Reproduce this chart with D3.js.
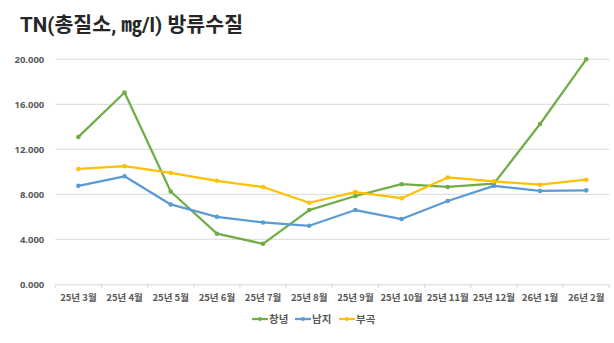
<!DOCTYPE html>
<html><head><meta charset="utf-8">
<script src="https://cdn.jsdelivr.net/npm/d3@7"></script>
<style>
html,body{margin:0;padding:0;background:#fff;}
svg{display:block;font-family:"Noto Sans CJK KR","Noto Sans",sans-serif;}
</style></head>
<body><svg id="c" width="614" height="343"></svg>
<script>
const title = "TN(총질소, ㎎/l) 방류수질";
const categories = ["25년 3월","25년 4월","25년 5월","25년 6월","25년 7월","25년 8월","25년 9월","25년 10월","25년 11월","25년 12월","26년 1월","26년 2월"];
const changnyeong = [13.1,17.05,8.25,4.5,3.6,6.6,7.85,8.9,8.65,8.95,14.25,20.0];
const namji = [8.75,9.6,7.1,6.0,5.5,5.2,6.6,5.8,7.4,8.75,8.3,8.35];
const bugok = [10.25,10.5,9.9,9.2,8.65,7.25,8.2,7.65,9.5,9.15,8.85,9.3];
const yTicks = [0,4,8,12,16,20];
const seriesNames = ["창녕","남지","부곡"];
const seriesColors = ["#70AD47","#5B9BD5","#FFC000"];

const svg = d3.select("#c");
const x = d3.scaleBand().domain(categories).range([55.3,609.3]);
const y = d3.scaleLinear().domain([0,20]).range([284.3,59.3]);

svg.append("text").attr("x",20).attr("y",31.5).text(title)
  .attr("font-size",20.5).attr("font-weight",700).attr("fill","#262626")
  .attr("textLength",223).attr("lengthAdjust","spacing")
  .attr("font-family","Roboto,'Noto Sans CJK KR',sans-serif");

// gridlines
svg.append("g").selectAll("line").data(yTicks.filter(d=>d>0)).join("line")
  .attr("x1",55.3).attr("x2",609.3).attr("y1",d=>y(d)).attr("y2",d=>y(d))
  .attr("stroke","#D9D9D9").attr("stroke-width",1);

// y axis labels
const ya = svg.append("g").attr("transform","translate(55.3,0)")
  .call(d3.axisLeft(y).tickValues(yTicks).tickFormat(d3.format(".3f")).tickSize(0).tickPadding(11));
ya.select(".domain").remove();
ya.selectAll("text").attr("font-size",9.5).attr("font-weight",700).attr("fill","#595959")
  .attr("font-family","'Noto Sans','Noto Sans CJK KR',sans-serif");

// x axis
const xa = svg.append("g").attr("transform","translate(0,284.3)")
  .call(d3.axisBottom(x).tickSize(0).tickPadding(10));
xa.select(".domain").attr("stroke","#D9D9D9");
xa.selectAll("text").attr("font-size",9.5).attr("font-weight",700).attr("fill","#595959")
  .attr("font-family","'Noto Sans CJK KR',sans-serif");
// tick marks at band edges
const edges = categories.map(c=>x(c)).concat([x(categories[categories.length-1])+x.bandwidth()]);
svg.append("g").selectAll("line").data(edges).join("line")
  .attr("x1",d=>d).attr("x2",d=>d).attr("y1",284.3).attr("y2",288)
  .attr("stroke","#D9D9D9");

const allSeries = [changnyeong, namji, bugok];
const line = d3.line().x((d,i)=>x(categories[i])+x.bandwidth()/2).y(d=>y(d));
allSeries.forEach((s,k)=>{
  svg.append("path").datum(s).attr("d",line).attr("fill","none")
    .attr("stroke",seriesColors[k]).attr("stroke-width",2.25).attr("stroke-linejoin","round");
  svg.append("g").selectAll("circle").data(s).join("circle")
    .attr("cx",(d,i)=>x(categories[i])+x.bandwidth()/2).attr("cy",d=>y(d)).attr("r",2.3)
    .attr("fill",seriesColors[k]);
});

// legend
const legX = [252,295,339];
seriesNames.forEach((n,k)=>{
  const g = svg.append("g").attr("transform",`translate(${legX[k]},319)`);
  g.append("line").attr("x1",0).attr("x2",16).attr("stroke",seriesColors[k]).attr("stroke-width",2.25);
  g.append("circle").attr("cx",8).attr("r",2).attr("fill",seriesColors[k]);
  g.append("text").attr("x",17).attr("y",4).text(n).attr("font-size",10.5).attr("font-weight",700).attr("fill","#595959");
});
</script></body></html>
